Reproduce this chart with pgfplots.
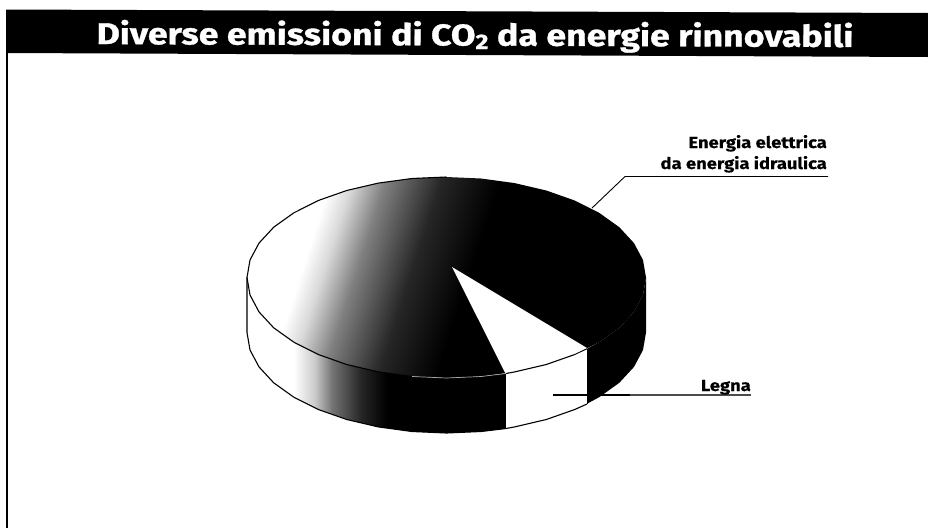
\documentclass[border=0pt]{standalone}
\usepackage{pgfplots}
\pgfplotsset{compat=1.18}
\usepackage{fontspec}
\setmainfont{Fira Sans}
\newfontface\titlefont[FakeStretch=1.19,FakeBold=1.0]{Fira Sans Bold}
\newfontface\labelfont[FakeStretch=1.15,FakeBold=0.4]{Fira Sans Bold}
\pgfdeclarehorizontalshading{pietop}{100bp}{color(0bp)=(white); color(30bp)=(white); color(33bp)=(black!15); color(37.5bp)=(black!50); color(45bp)=(black!85); color(53bp)=(black); color(100bp)=(black)}
\pgfdeclarehorizontalshading{pieside}{100bp}{color(0bp)=(white); color(34bp)=(white); color(38bp)=(black!20); color(41.5bp)=(black!55); color(47bp)=(black!85); color(52bp)=(black); color(100bp)=(black)}
\begin{document}
\begin{tikzpicture}
\begin{axis}[
  scale only axis, width=928pt, height=528pt,
  xmin=0, xmax=928, ymin=0, ymax=528, y dir=reverse,
  hide axis, clip=true]
% page
\addplot[fill=white, draw=none] coordinates {(0,0) (928,0) (928,528) (0,528)} -- cycle;
% title bar and left rule
\addplot[fill=black, draw=none] coordinates {(6,9.5) (928,13) (928,57) (6,53)} -- cycle;
\addplot[black, line width=2.4pt] coordinates {(7.2,53) (7.2,528)};
% top of the pie
\addplot[draw=none, shading=pietop, shading angle=-18] coordinates {
(646,277.5) (643,295) (634,311.9) (619.3,327.8) (599.3,342.1) (574.7,354.5) (546.3,364.5) (514.7,371.9) (481.1,376.5) (446.5,378)
(411.9,376.5) (378.3,371.9) (346.7,364.5) (318.3,354.5) (293.7,342.1) (273.7,327.8) (259,311.9) (250,295) (247,277.5)
(250,260) (259,243.1) (273.7,227.2) (293.7,212.9) (318.3,200.5) (346.7,190.5) (378.3,183.1) (411.9,178.5) (446.5,177)
(481.1,178.5) (514.7,183.1) (546.3,190.5) (574.7,200.5) (599.3,212.9) (619.3,227.2) (634,243.1) (643,260)} -- cycle;
% side wall, hydro part, left of the wedge
\addplot[draw=none, shading=pieside] coordinates {
(247,277.5) (250,295) (259,311.9) (273.7,327.8) (293.7,342.1) (318.3,354.5) (346.7,364.5) (378.3,371.9) (411.9,376.5) (446.5,378) (481.1,376.5) (506,373.5)
(506,428.5) (481.1,431.5) (446.5,433) (411.9,431.5) (378.3,426.9) (346.7,419.5) (318.3,409.5) (293.7,397.1) (273.7,382.8) (259,366.9) (250,350) (247,332.5)} -- cycle;
% side wall, hydro part, right of the wedge
\addplot[fill=black, draw=none] coordinates {
(587,348.8) (599.3,342.1) (619.3,327.8) (634,311.9) (643,295) (646,277.5)
(646,332.5) (643,350) (634,366.9) (619.3,382.8) (599.3,397.1) (587,403.8)} -- cycle;
% wedge: Legna, top and side
\addplot[fill=white, draw=none] coordinates {(452,267) (505.5,373.5) (514.7,371.9) (546.3,364.5) (574.7,354.5) (587,348)} -- cycle;
\addplot[fill=white, draw=none] coordinates {(506,373.5) (514.7,371.9) (546.3,364.5) (574.7,354.5) (587,348.8) (587,404) (574.7,409.5) (546.3,419.5) (514.7,426.9) (506,428.5)} -- cycle;
% outlines
\addplot[black, line width=1.1pt] coordinates {
(574.7,354.5) (546.3,364.5) (514.7,371.9) (506,373.5)};
\addplot[black, line width=0.9pt] coordinates {(587,348.8) (574.7,354.5)};
\addplot[black!35, line width=0.7pt] coordinates {(506,373.5) (481.1,376.5) (446.5,378) (411.9,376.5)};
\addplot[black, line width=1.1pt] coordinates {
(411.9,376.5) (378.3,371.9) (346.7,364.5) (318.3,354.5) (293.7,342.1) (273.7,327.8) (259,311.9) (250,295) (247,277.5)
(250,260) (259,243.1) (273.7,227.2) (293.7,212.9) (318.3,200.5) (346.7,190.5) (378.3,183.1) (411.9,178.5) (446.5,177)};
\addplot[black, line width=1.1pt] coordinates {
(247,277.5) (247,332.5) (250,350) (259,366.9) (273.7,382.8) (293.7,397.1) (318.3,409.5) (346.7,419.5) (378.3,426.9) (411.9,431.5) (446.5,433) (481.1,431.5) (506,428.5) (514.7,426.9) (546.3,419.5) (574.7,409.5) (587,404)};
\addplot[black, line width=1pt] coordinates {(587,348.8) (587,404)};
% leader lines
\addplot[black, line width=0.9pt] coordinates {(592,208) (625,176.5) (828,176.5)};
\addplot[black, line width=1.1pt] coordinates {(553,395) (630,395)};
\addplot[black!70, line width=1.1pt] coordinates {(630,395) (751,395)};
% texts
\node[anchor=base, text=white, font=\fontsize{30}{30}\titlefont, rotate=-0.22, inner sep=0pt] at (axis cs:475,45.5)
  {Diverse emissioni di CO\raisebox{-3.5pt}{\fontsize{21}{21}\selectfont 2} da energie rinnovabili};
\node[anchor=base east, font=\fontsize{16}{16}\labelfont, inner sep=0pt] at (axis cs:827,148) {Energia elettrica};
\node[anchor=base east, font=\fontsize{16}{16}\labelfont, inner sep=0pt] at (axis cs:827,169) {da energia idraulica};
\node[anchor=base east, font=\fontsize{16}{16}\labelfont, inner sep=0pt] at (axis cs:751,391) {Legna};
\end{axis}
\end{tikzpicture}
\end{document}
